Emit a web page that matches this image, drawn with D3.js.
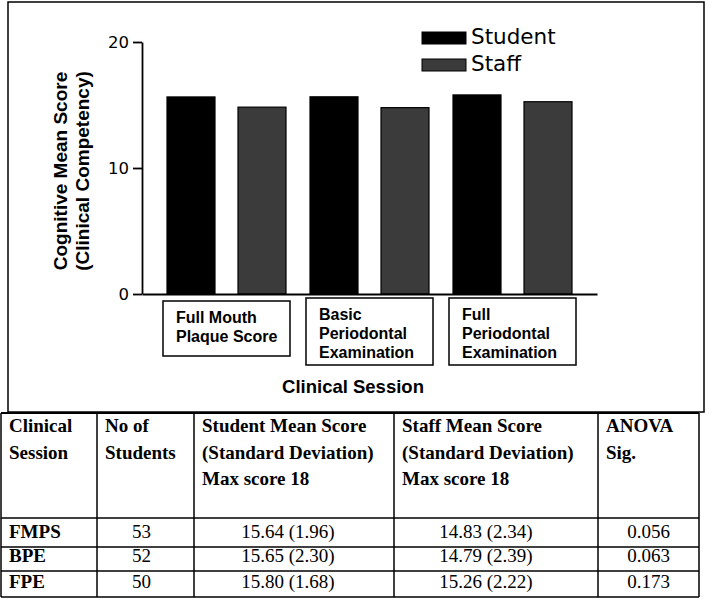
<!DOCTYPE html>
<html>
<head>
<meta charset="utf-8">
<script src="https://cdn.jsdelivr.net/npm/d3@7"></script>
<style>
  html, body { margin: 0; padding: 0; background: #fff; }
  svg { display: block; }
</style>
</head>
<body>
<svg id="chart" width="711" height="598"></svg>
<script>
// ---------------- data ----------------
const sessions = ["Full Mouth Plaque Score", "Basic Periodontal Examination", "Full Periodontal Examination"];
const sessionLabelLines = [["Full Mouth", "Plaque Score"], ["Basic", "Periodontal", "Examination"], ["Full", "Periodontal", "Examination"]];
const seriesNames = ["Student", "Staff"];
const studentMeans = [15.64, 15.65, 15.80];
const staffMeans = [14.83, 14.79, 15.26];
const studentSD = [1.96, 2.30, 1.68];
const staffSD = [2.34, 2.39, 2.22];
const sessionCodes = ["FMPS", "BPE", "FPE"];
const nStudents = [53, 52, 50];
const anovaSig = ["0.056", "0.063", "0.173"];
const yTicks = [0, 10, 20];
const yAxisTitleLines = ["Cognitive Mean Score", "(Clinical Competency)"];
const xAxisTitle = "Clinical Session";
const tableHeaders = [
  ["Clinical", "Session"],
  ["No of", "Students"],
  ["Student Mean Score", "(Standard Deviation)", "Max score 18"],
  ["Staff Mean Score", "(Standard Deviation)", "Max score 18"],
  ["ANOVA", "Sig."]
];

// ---------------- layout ----------------
const svg = d3.select("#chart");
const sans = "'Liberation Sans', Arial, sans-serif";
const wide = "'DejaVu Sans', sans-serif";
const serif = "'Liberation Serif', 'Times New Roman', serif";
const colors = { Student: "#000000", Staff: "#3b3b3b" };

svg.append("rect").attr("width", 711).attr("height", 598).attr("fill", "#fff");

// outer chart frame
svg.append("rect").attr("x", 8).attr("y", 2).attr("width", 696).attr("height", 410)
  .attr("fill", "none").attr("stroke", "#000").attr("stroke-width", 1.5);

const y = d3.scaleLinear().domain([0, 20]).range([294, 42]);
const x0 = d3.scaleBand().domain(sessions).range([142, 597]).paddingInner(0).paddingOuter(0.0909);
const x1 = d3.scaleBand().domain(seriesNames).range([0, x0.bandwidth()]).paddingInner(0.324).paddingOuter(0.169);

const rows = sessions.map((s, i) => ({ session: s, Student: studentMeans[i], Staff: staffMeans[i] }));

// bars
const g = svg.append("g");
g.selectAll("g.grp").data(rows).join("g").attr("class", "grp")
  .attr("transform", d => `translate(${x0(d.session)},0)`)
  .selectAll("rect").data(d => seriesNames.map(k => ({ key: k, value: d[k] }))).join("rect")
  .attr("x", d => x1(d.key))
  .attr("y", d => y(d.value))
  .attr("width", x1.bandwidth())
  .attr("height", d => y(0) - y(d.value))
  .attr("fill", d => colors[d.key])
  .attr("stroke", "#000").attr("stroke-width", 1.2);

// y axis
const yAxis = svg.append("g").attr("transform", "translate(142,0)")
  .call(d3.axisLeft(y).tickValues(yTicks).tickSize(9).tickPadding(4).tickSizeOuter(0));
yAxis.select(".domain").attr("stroke-width", 1.8);
yAxis.selectAll(".tick line").attr("stroke-width", 1.8);
yAxis.selectAll(".tick text").attr("font-family", wide).attr("font-size", 16.5).attr("fill", "#000");

// x axis (line only)
const xAxis = svg.append("g").attr("transform", "translate(0,294)")
  .call(d3.axisBottom(x0).tickSize(0).tickSizeOuter(0).tickFormat(""));
xAxis.select(".domain").attr("stroke-width", 1.8);

// category label boxes
sessions.forEach((s, i) => {
  const lines = sessionLabelLines[i];
  const cx = x0(s) + x0.bandwidth() / 2;
  const top = lines.length === 2 ? 301 : 298;
  const h = lines.length === 2 ? 55 : 67;
  svg.append("rect").attr("x", cx - 63.5).attr("y", top).attr("width", 127).attr("height", h)
    .attr("fill", "#fff").attr("stroke", "#000").attr("stroke-width", 1.5);
  const t = svg.append("text").attr("font-family", sans).attr("font-weight", "bold")
    .attr("font-size", 16).attr("fill", "#000");
  lines.forEach((ln, j) => {
    t.append("tspan").attr("x", cx - 50.5).attr("y", top + 21.5 + j * 19).text(ln);
  });
});

// x axis title
svg.append("text").attr("x", 353).attr("y", 393).attr("text-anchor", "middle")
  .attr("font-family", sans).attr("font-weight", "bold").attr("font-size", 18.5).text(xAxisTitle);

// y axis title
yAxisTitleLines.forEach((ln, j) => {
  svg.append("text").attr("transform", `translate(${67 + j * 21.5},171) rotate(-90)`)
    .attr("text-anchor", "middle").attr("font-family", sans).attr("font-weight", "bold")
    .attr("font-size", 19).text(ln);
});

// legend
seriesNames.forEach((k, j) => {
  const ly = 32 + j * 27;
  svg.append("rect").attr("x", 422).attr("y", ly).attr("width", 44).attr("height", 12)
    .attr("fill", colors[k]).attr("stroke", "#000").attr("stroke-width", 1);
  svg.append("text").attr("x", 471).attr("y", ly + 12).attr("font-family", wide)
    .attr("font-size", 21.5).attr("fill", "#000").text(k);
});

// ---------------- table ----------------
const colEdges = [1, 97, 194, 394, 598, 699];
const rowEdges = [413, 518, 547, 571, 597];
const colDx = [0, -4, -6, -10, 0];
const tbl = svg.append("g");

// header text
tableHeaders.forEach((lines, c) => {
  const t = tbl.append("text").attr("font-family", serif).attr("font-weight", "bold")
    .attr("font-size", 19).attr("fill", "#000");
  lines.forEach((ln, j) => {
    t.append("tspan").attr("x", colEdges[c] + 8).attr("y", 432 + j * 26.5).text(ln);
  });
});

// body rows
const bodyBaselines = [538, 562, 588];
sessionCodes.forEach((code, r) => {
  const cells = [
    code,
    String(nStudents[r]),
    `${studentMeans[r].toFixed(2)} (${studentSD[r].toFixed(2)})`,
    `${staffMeans[r].toFixed(2)} (${staffSD[r].toFixed(2)})`,
    anovaSig[r]
  ];
  cells.forEach((txt, c) => {
    const t = tbl.append("text").attr("font-family", serif).attr("font-size", 19)
      .attr("fill", "#000").attr("y", bodyBaselines[r]).text(txt);
    if (c === 0) {
      t.attr("x", colEdges[0] + 8).attr("font-weight", "bold");
    } else {
      t.attr("x", (colEdges[c] + colEdges[c + 1]) / 2 + colDx[c]).attr("text-anchor", "middle");
    }
  });
});

// grid lines
colEdges.forEach(cx => {
  tbl.append("line").attr("x1", cx).attr("x2", cx).attr("y1", rowEdges[0]).attr("y2", rowEdges[rowEdges.length - 1])
    .attr("stroke", "#000").attr("stroke-width", 1.5);
});
rowEdges.forEach((ry, i) => {
  tbl.append("line").attr("x1", colEdges[0]).attr("x2", colEdges[colEdges.length - 1]).attr("y1", ry).attr("y2", ry)
    .attr("stroke", "#000").attr("stroke-width", i === 0 ? 2 : 1.5);
});
</script>
</body>
</html>
